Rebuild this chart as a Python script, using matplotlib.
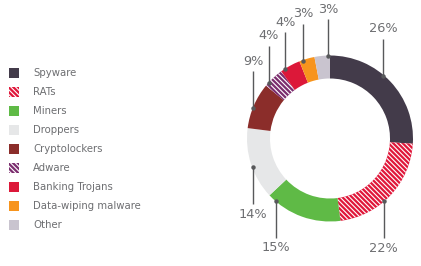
import numpy as np
import matplotlib

matplotlib.use("Agg")
import matplotlib.pyplot as plt
from matplotlib.patches import Rectangle

categories = ["Spyware", "RATs", "Miners", "Droppers", "Cryptolockers",
              "Adware", "Banking Trojans", "Data-wiping malware", "Other"]
shares = [26, 22, 15, 14, 9, 4, 4, 3, 3]
colors = ["#433b4a", "#e0173a", "#5fba46", "#e6e7e8", "#8b2d2a",
          "#7b2d6e", "#dc1839", "#f7941d", "#c9c4cf"]
hatched = [False, True, False, False, False, True, False, False, False]

# where along each wedge (clockwise fraction) the leader line sits
leader_frac = [0.43, 0.58, 0.89, 0.45, 0.44, 0.19, 0.22, 0.22, 0.87]

W, H = 421, 266
TEXT = "#6d6e71"
LINE = "#58595b"
HATCH = "\\" * 7

plt.rcParams["hatch.linewidth"] = 0.8
plt.rcParams["font.family"] = ["DejaVu Sans"]

fig = plt.figure(figsize=(W / 100, H / 100), dpi=100)
ax = fig.add_axes([0, 0, 1, 1])

cx, cy, r_out, ring = 330, H - 138.5, 83, 23
wedges, _ = ax.pie(shares, colors=colors, startangle=90, counterclock=False,
                   radius=r_out, center=(cx, cy),
                   wedgeprops=dict(width=ring, linewidth=0, edgecolor="white"))
for w, h in zip(wedges, hatched):
    if h:
        w.set_hatch(HATCH)

ax.set_xlim(0, W)
ax.set_ylim(0, H)
ax.set_aspect("equal")
ax.axis("off")

# leader lines and percentage labels
for w, share, f in zip(wedges, shares, leader_frac):
    ang = np.deg2rad(w.theta2 - f * (w.theta2 - w.theta1))
    x = cx + (r_out - 0.5) * np.cos(ang)
    y = cy + (r_out - 0.5) * np.sin(ang)
    sign = 1 if np.sin(ang) > 0 else -1
    ax.plot([x, x], [y, y + sign * 37], color=LINE, lw=1.0, solid_capstyle="butt")
    ax.plot(x, y, "o", color=LINE, ms=3.2, mec="none")
    ax.text(x, y + sign * 47, f"{share}%", ha="center", va="center",
            fontsize=9.3, color=TEXT)

# legend
for i, (name, c, h) in enumerate(zip(categories, colors, hatched)):
    yc = H - (73.3 + 19 * i)
    sq = Rectangle((9, yc - 5), 10, 10, facecolor=c, linewidth=0,
                   edgecolor="white", hatch=HATCH if h else None)
    ax.add_patch(sq)
    ax.text(33, yc, name, ha="left", va="center", fontsize=7.3, color=TEXT)

fig.savefig("out.png", dpi=100)
